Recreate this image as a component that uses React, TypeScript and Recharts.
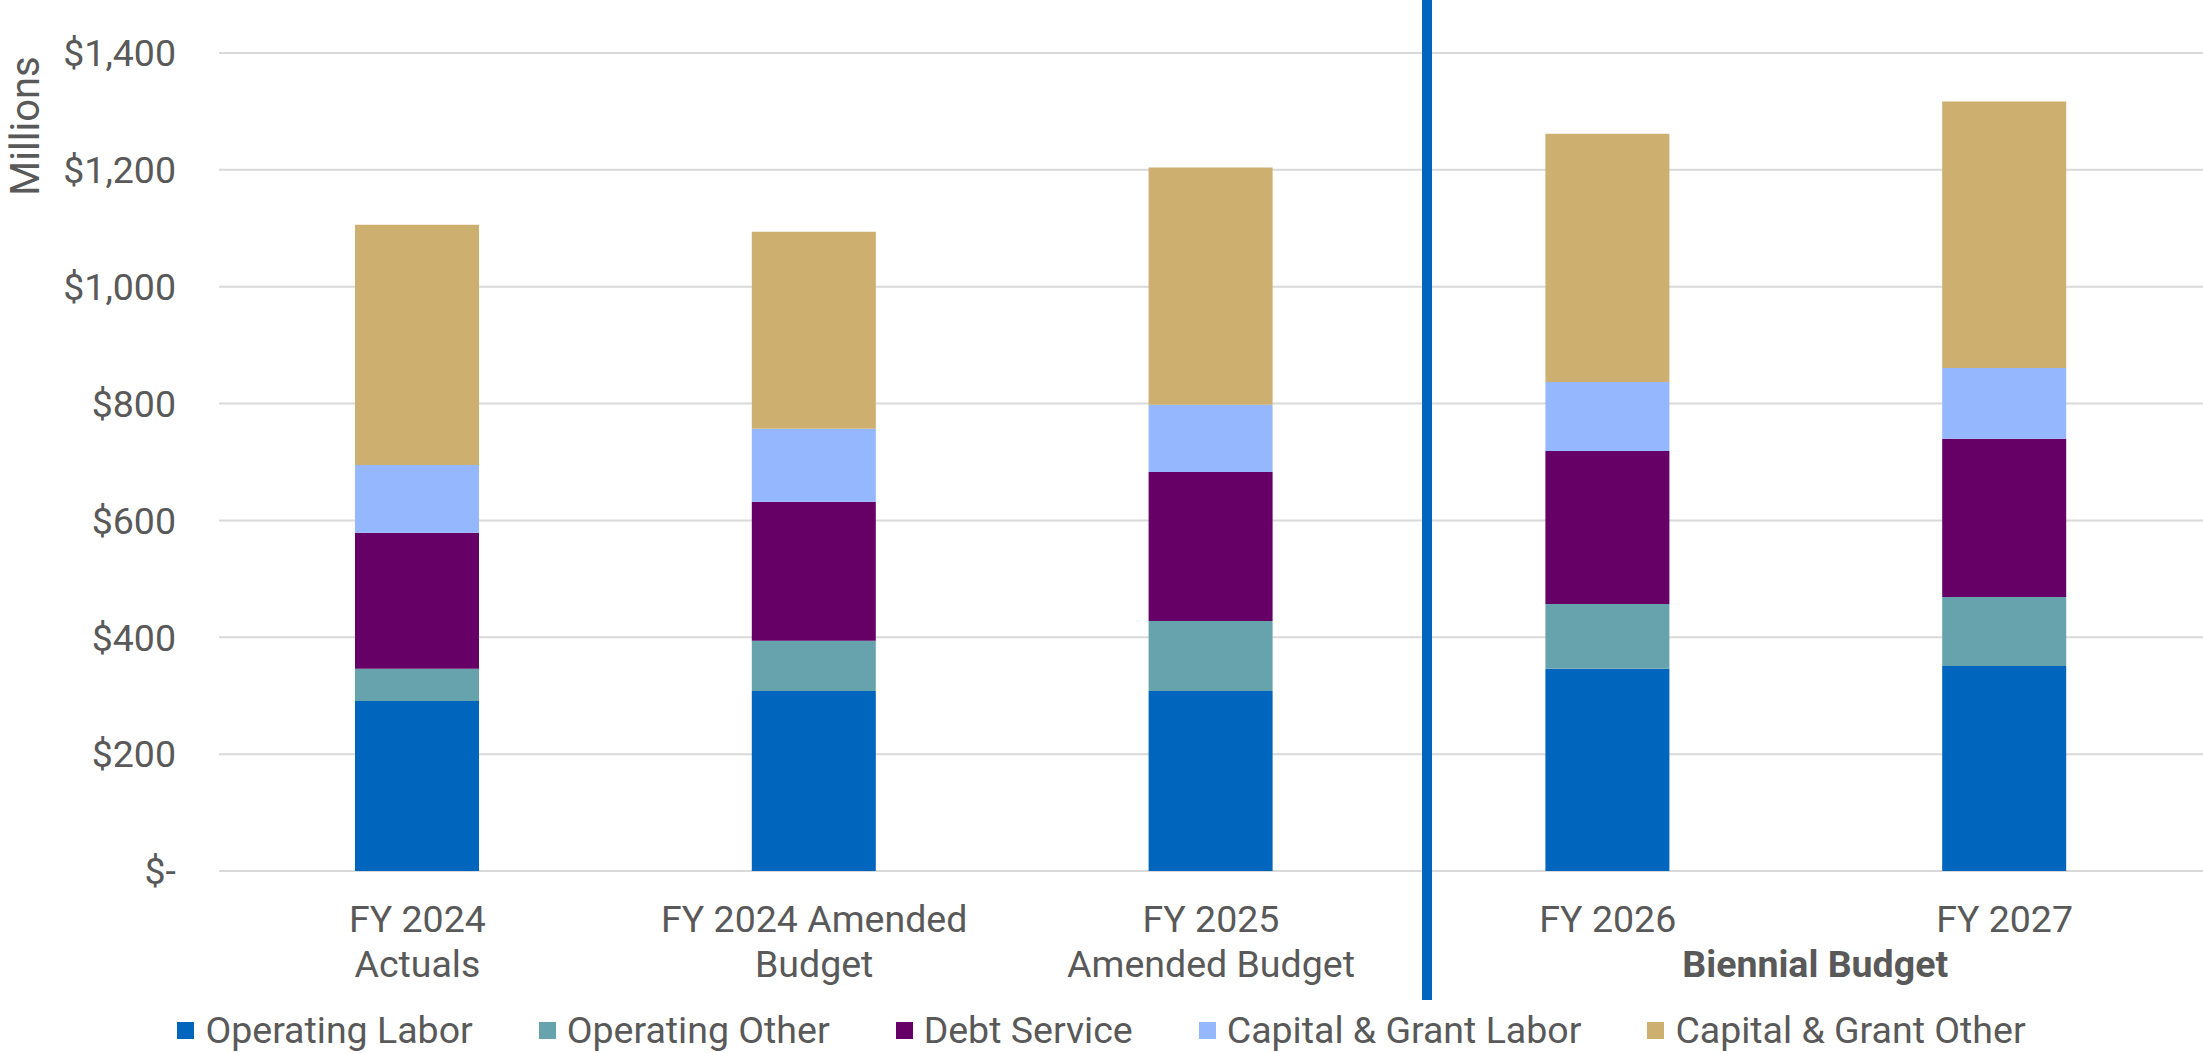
import { BarChart, Bar, XAxis, YAxis, CartesianGrid, Legend } from 'recharts';

const categories = ['FY 2024\nActuals', 'FY 2024 Amended\nBudget', 'FY 2025\nAmended Budget', 'FY 2026', 'FY 2027'];
const groupLabel = 'Biennial Budget';

// $ millions
const operatingLabor = [291, 308, 308, 346, 351];
const operatingOther = [55, 86, 120, 111, 118];
const debtService = [233, 238, 255, 262, 271];
const capitalGrantLabor = [116, 125, 115, 118, 121];
const capitalGrantOther = [411, 337, 406, 425, 456];

const yTicks = [0, 200, 400, 600, 800, 1000, 1200, 1400];

const SERIES = [
  { key: 'operatingLabor', name: 'Operating Labor', color: '#0065BD' },
  { key: 'operatingOther', name: 'Operating Other', color: '#67A3AD' },
  { key: 'debtService', name: 'Debt Service', color: '#660066' },
  { key: 'capitalGrantLabor', name: 'Capital & Grant Labor', color: '#95B7FD' },
  { key: 'capitalGrantOther', name: 'Capital & Grant Other', color: '#CDAF70' },
];

const data = categories.map((name, i) => ({
  name,
  operatingLabor: operatingLabor[i],
  operatingOther: operatingOther[i],
  debtService: debtService[i],
  capitalGrantLabor: capitalGrantLabor[i],
  capitalGrantOther: capitalGrantOther[i],
}));

const W = 2203;
const H = 1053;
const PLOT_LEFT = 219;
const BAND = (W - PLOT_LEFT) / categories.length;
const TEXT = '#595959';
const FONT = 'Roboto, "Noto Sans", sans-serif';
const FS = 37.5;

const fmtMoney = (v: number) => (v === 0 ? '$-' : '$' + v.toLocaleString('en-US'));

const XTick = ({ x, y, payload, index }: any) => {
  const lines = String(payload.value).split('\n');
  return (
    <g>
      {lines.map((l, i) => (
        <text key={i} x={x} y={y + 53 + i * 45} textAnchor="middle" fill={TEXT} fontSize={FS} fontFamily={FONT}>
          {l}
        </text>
      ))}
      {index === 3 && (
        <text x={x + BAND / 2 + 9} y={y + 98} textAnchor="middle" fill={TEXT} fontSize={FS} fontWeight="bold" fontFamily={FONT}>
          {groupLabel}
        </text>
      )}
    </g>
  );
};

const MillionsLabel = ({ viewBox }: any) => {
  const cx = viewBox.x + 25;
  const cy = viewBox.y + 73;
  return (
    <text x={cx} y={cy} transform={`rotate(-90, ${cx}, ${cy})`} textAnchor="middle" dominantBaseline="central" fill={TEXT} fontSize={40} fontFamily={FONT}>
      Millions
    </text>
  );
};

const LegendContent = () => (
  <div style={{ display: 'flex', justifyContent: 'center', alignItems: 'center', gap: 66, height: 62, paddingTop: 16, boxSizing: 'border-box', fontFamily: FONT, fontSize: FS, color: TEXT }}>
    {SERIES.map((s) => (
      <div key={s.key} style={{ display: 'flex', alignItems: 'center' }}>
        <span style={{ width: 17, height: 17, background: s.color, marginRight: 11, display: 'inline-block' }} />
        <span>{s.name}</span>
      </div>
    ))}
  </div>
);

export default function App() {
  return (
    <div style={{ position: 'relative', width: W, height: H, background: '#fff' }}>
      <style>{'body{margin:0;}'}</style>
      <BarChart
        width={W}
        height={H}
        data={data}
        margin={{ top: 53, right: 0, left: 0, bottom: 0 }}
        barSize={124}
        style={{ fontFamily: FONT }}
      >
        <CartesianGrid vertical={false} stroke="#D9D9D9" strokeWidth={2} />
        <XAxis dataKey="name" axisLine={false} tickLine={false} interval={0} height={120} tick={<XTick />} />
        <YAxis
          width={PLOT_LEFT}
          domain={[0, 1400]}
          ticks={yTicks}
          axisLine={false}
          tickLine={false}
          tickMargin={37}
          tickFormatter={fmtMoney}
          tick={{ fontSize: FS, fill: TEXT, fontFamily: FONT }}
          label={<MillionsLabel />}
        />
        <Legend verticalAlign="bottom" content={<LegendContent />} wrapperStyle={{ left: 0, width: W }} />
        {SERIES.map((s) => (
          <Bar key={s.key} dataKey={s.key} name={s.name} stackId="a" fill={s.color} isAnimationActive={false} />
        ))}
      </BarChart>
      <div style={{ position: 'absolute', left: 1422, top: 0, width: 10, height: 1000, background: '#0065BD' }} />
    </div>
  );
}
